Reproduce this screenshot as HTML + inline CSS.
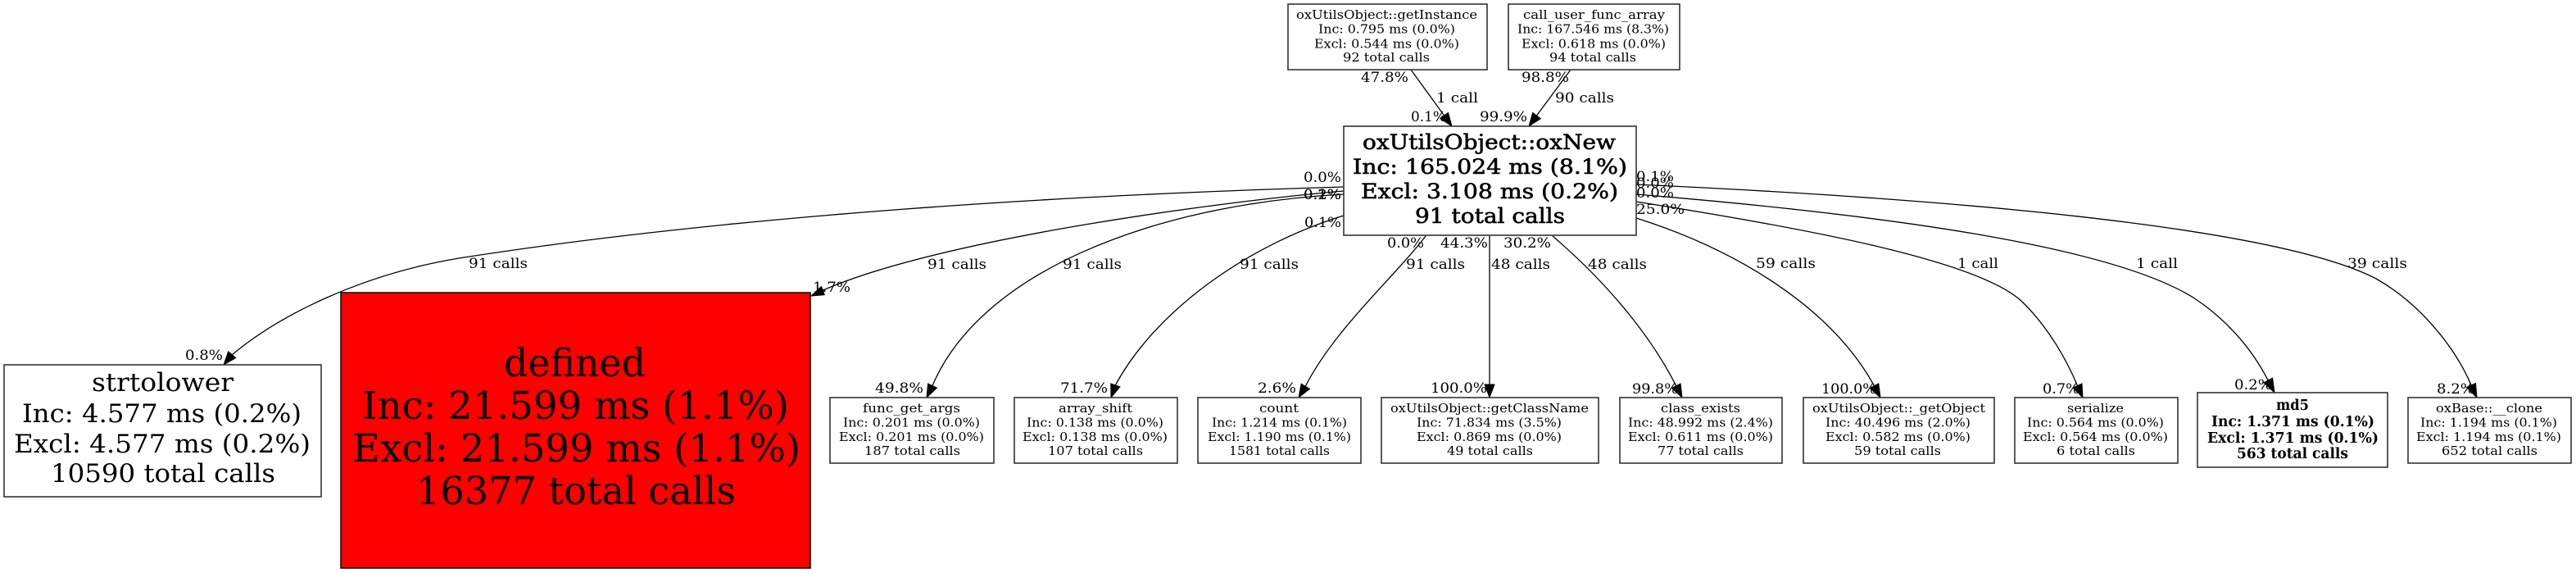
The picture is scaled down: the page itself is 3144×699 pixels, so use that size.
<!DOCTYPE html>
<html>
<head>
<meta charset="utf-8">
<style>
  html, body { margin: 0; padding: 0; background: #ffffff; }
  body { width: 3144px; height: 699px; overflow: hidden; }
  svg { display: block; }
  text { font-family: "DejaVu Serif", "Liberation Serif", serif; fill: #000; }
  .n { font-size: 15px; }
  .e { font-size: 17px; }
  .b { font-weight: bold; }
  .m { stroke: #000; stroke-width: 0.6; }
  rect.box { fill: #fff; stroke: #333; stroke-width: 1.6; }
  path.edge { fill: none; stroke: #000; stroke-width: 1.3; }
  polygon.ah { fill: #000; stroke: #000; stroke-width: 1; }
</style>
</head>
<body>
<svg width="3144" height="699" viewBox="0 0 3144 699" xmlns="http://www.w3.org/2000/svg">
<rect x="0" y="0" width="3144" height="699" fill="#fff"/>

<!-- ===== EDGES ===== -->
<path class="edge" d="M1722,85 L1762.6,141"/>
<polygon class="ah" points="1772,154 1757.7,144.5 1767.5,137.5"/>
<path class="edge" d="M1917,85 L1875.5,141"/>
<polygon class="ah" points="1866,154 1870.7,137.5 1880.3,144.7"/>

<path class="edge" d="M1640,228 C1300,238 900,262 560,315 C440,335 340,385 283,433"/>
<polygon class="ah" points="273,445 287.8,436.5 278.6,428.9"/>
<path class="edge" d="M1640,233 C1500,245 1150,290 1004.4,354.1"/>
<polygon class="ah" points="990,361 1002.6,349.4 1006.3,359.7"/>
<path class="edge" d="M1640,237 C1400,250 1195,335 1138,470.6"/>
<polygon class="ah" points="1131,485 1143.4,473.2 1132.6,468"/>
<path class="edge" d="M1640,263 C1520,300 1410,380 1361.3,469.9"/>
<polygon class="ah" points="1356,485 1367,471.9 1355.7,467.9"/>
<path class="edge" d="M1740,288 C1700,340 1630,400 1593.2,471.3"/>
<polygon class="ah" points="1585,485 1598.4,474.4 1588.1,468.2"/>
<path class="edge" d="M1818,288 L1818,469"/>
<polygon class="ah" points="1818,485 1824,469 1812,469"/>
<path class="edge" d="M1895,288 C1950,335 2010,400 2045.7,470.7"/>
<polygon class="ah" points="2053,485 2040.4,473.4 2051.1,468"/>
<path class="edge" d="M1997,266 C2120,305 2235,375 2287.5,470.7"/>
<polygon class="ah" points="2295,485 2282.2,473.5 2292.8,467.9"/>
<path class="edge" d="M1997,246 C2200,278 2420,318 2470,370 C2500,400 2522,438 2535.5,470.5"/>
<polygon class="ah" points="2542,485 2530,473 2541,468"/>
<path class="edge" d="M1997,237 C2300,262 2580,300 2680,365 C2720,392 2750,428 2768.5,464.8"/>
<polygon class="ah" points="2776,479 2763,466.8 2773.6,461.2"/>
<path class="edge" d="M1997,225 C2500,248 2800,288 2900,340 C2950,368 2995,420 3016.3,470.3"/>
<polygon class="ah" points="3023,485 3010.5,472.5 3021.5,467.5"/>

<!-- ===== NODES ===== -->
<rect class="box" x="1572" y="5" width="243" height="80"/>
<text class="n" x="1582" y="23" textLength="221" lengthAdjust="spacingAndGlyphs">oxUtilsObject::getInstance</text>
<text class="n" x="1609" y="40.7" textLength="167" lengthAdjust="spacingAndGlyphs">Inc: 0.795 ms (0.0%)</text>
<text class="n" x="1604" y="58.3" textLength="177" lengthAdjust="spacingAndGlyphs">Excl: 0.544 ms (0.0%)</text>
<text class="n" x="1639" y="75" textLength="106" lengthAdjust="spacingAndGlyphs">92 total calls</text>

<rect class="box" x="1841" y="5" width="209" height="80"/>
<text class="n" x="1859" y="23" textLength="173" lengthAdjust="spacingAndGlyphs">call_user_func_array</text>
<text class="n" x="1852" y="40.7" textLength="185" lengthAdjust="spacingAndGlyphs">Inc: 167.546 ms (8.3%)</text>
<text class="n" x="1857" y="58.3" textLength="176" lengthAdjust="spacingAndGlyphs">Excl: 0.618 ms (0.0%)</text>
<text class="n" x="1891" y="75" textLength="106" lengthAdjust="spacingAndGlyphs">94 total calls</text>

<rect class="box" x="1640" y="154" width="357" height="133"/>
<text class="m" font-size="25" x="1663" y="182" textLength="309" lengthAdjust="spacingAndGlyphs">oxUtilsObject::oxNew</text>
<text class="m" font-size="25" x="1651" y="212" textLength="335" lengthAdjust="spacingAndGlyphs">Inc: 165.024 ms (8.1%)</text>
<text class="m" font-size="25" x="1661" y="242" textLength="314" lengthAdjust="spacingAndGlyphs">Excl: 3.108 ms (0.2%)</text>
<text class="m" font-size="25" x="1727" y="272" textLength="183" lengthAdjust="spacingAndGlyphs">91 total calls</text>

<rect class="box" x="5" y="445" width="387" height="161"/>
<text font-size="31" x="112" y="477" textLength="173" lengthAdjust="spacingAndGlyphs">strtolower</text>
<text font-size="31" x="27" y="515" textLength="341" lengthAdjust="spacingAndGlyphs">Inc: 4.577 ms (0.2%)</text>
<text font-size="31" x="17" y="552" textLength="362" lengthAdjust="spacingAndGlyphs">Excl: 4.577 ms (0.2%)</text>
<text font-size="31" x="62" y="588" textLength="274" lengthAdjust="spacingAndGlyphs">10590 total calls</text>

<rect x="416" y="357" width="573" height="336" fill="#ff0000" stroke="#111" stroke-width="1.6"/>
<text font-size="47" x="615" y="459" textLength="173" lengthAdjust="spacingAndGlyphs">defined</text>
<text font-size="47" x="442" y="511" textLength="521" lengthAdjust="spacingAndGlyphs">Inc: 21.599 ms (1.1%)</text>
<text font-size="47" x="430" y="563" textLength="547" lengthAdjust="spacingAndGlyphs">Excl: 21.599 ms (1.1%)</text>
<text font-size="47" x="508" y="615" textLength="390" lengthAdjust="spacingAndGlyphs">16377 total calls</text>

<rect class="box" x="1013" y="485" width="200" height="80"/>
<text class="n" x="1053" y="503" textLength="119" lengthAdjust="spacingAndGlyphs">func_get_args</text>
<text class="n" x="1029" y="520.5" textLength="167" lengthAdjust="spacingAndGlyphs">Inc: 0.201 ms (0.0%)</text>
<text class="n" x="1024" y="538" textLength="177" lengthAdjust="spacingAndGlyphs">Excl: 0.201 ms (0.0%)</text>
<text class="n" x="1055" y="555" textLength="117" lengthAdjust="spacingAndGlyphs">187 total calls</text>

<rect class="box" x="1238" y="485" width="199" height="80"/>
<text class="n" x="1292" y="503" textLength="90" lengthAdjust="spacingAndGlyphs">array_shift</text>
<text class="n" x="1253" y="520.5" textLength="167" lengthAdjust="spacingAndGlyphs">Inc: 0.138 ms (0.0%)</text>
<text class="n" x="1248" y="538" textLength="177" lengthAdjust="spacingAndGlyphs">Excl: 0.138 ms (0.0%)</text>
<text class="n" x="1279" y="555" textLength="116" lengthAdjust="spacingAndGlyphs">107 total calls</text>

<rect class="box" x="1462" y="485" width="199" height="80"/>
<text class="n" x="1537" y="503" textLength="48" lengthAdjust="spacingAndGlyphs">count</text>
<text class="n" x="1479" y="520.5" textLength="165" lengthAdjust="spacingAndGlyphs">Inc: 1.214 ms (0.1%)</text>
<text class="n" x="1474" y="538" textLength="175" lengthAdjust="spacingAndGlyphs">Excl: 1.190 ms (0.1%)</text>
<text class="n" x="1500" y="555" textLength="123" lengthAdjust="spacingAndGlyphs">1581 total calls</text>

<rect class="box" x="1686" y="485" width="265" height="80"/>
<text class="n" x="1697" y="503" textLength="242" lengthAdjust="spacingAndGlyphs">oxUtilsObject::getClassName</text>
<text class="n" x="1729" y="520.5" textLength="177" lengthAdjust="spacingAndGlyphs">Inc: 71.834 ms (3.5%)</text>
<text class="n" x="1729" y="538" textLength="177" lengthAdjust="spacingAndGlyphs">Excl: 0.869 ms (0.0%)</text>
<text class="n" x="1766" y="555" textLength="105" lengthAdjust="spacingAndGlyphs">49 total calls</text>

<rect class="box" x="1977" y="485" width="198" height="80"/>
<text class="n" x="2027" y="503" textLength="97" lengthAdjust="spacingAndGlyphs">class_exists</text>
<text class="n" x="1987" y="520.5" textLength="177" lengthAdjust="spacingAndGlyphs">Inc: 48.992 ms (2.4%)</text>
<text class="n" x="1987" y="538" textLength="177" lengthAdjust="spacingAndGlyphs">Excl: 0.611 ms (0.0%)</text>
<text class="n" x="2023" y="555" textLength="105" lengthAdjust="spacingAndGlyphs">77 total calls</text>

<rect class="box" x="2201" y="485" width="233" height="80"/>
<text class="n" x="2212" y="503" textLength="211" lengthAdjust="spacingAndGlyphs">oxUtilsObject::_getObject</text>
<text class="n" x="2228" y="520.5" textLength="177" lengthAdjust="spacingAndGlyphs">Inc: 40.496 ms (2.0%)</text>
<text class="n" x="2228" y="538" textLength="177" lengthAdjust="spacingAndGlyphs">Excl: 0.582 ms (0.0%)</text>
<text class="n" x="2263" y="555" textLength="106" lengthAdjust="spacingAndGlyphs">59 total calls</text>

<rect class="box" x="2459" y="485" width="199" height="80"/>
<text class="n" x="2523" y="503" textLength="69" lengthAdjust="spacingAndGlyphs">serialize</text>
<text class="n" x="2474" y="520.5" textLength="167" lengthAdjust="spacingAndGlyphs">Inc: 0.564 ms (0.0%)</text>
<text class="n" x="2469" y="538" textLength="177" lengthAdjust="spacingAndGlyphs">Excl: 0.564 ms (0.0%)</text>
<text class="n" x="2510" y="555" textLength="96" lengthAdjust="spacingAndGlyphs">6 total calls</text>

<rect class="box" x="2682" y="479" width="232" height="91"/>
<text class="b" font-size="17.5" x="2778" y="500" textLength="40" lengthAdjust="spacingAndGlyphs">md5</text>
<text class="b" font-size="17.5" x="2699" y="520" textLength="199" lengthAdjust="spacingAndGlyphs">Inc: 1.371 ms (0.1%)</text>
<text class="b" font-size="17.5" x="2694" y="540" textLength="209" lengthAdjust="spacingAndGlyphs">Excl: 1.371 ms (0.1%)</text>
<text class="b" font-size="17.5" x="2730" y="559" textLength="136" lengthAdjust="spacingAndGlyphs">563 total calls</text>

<rect class="box" x="2939" y="485" width="199" height="80"/>
<text class="n" x="2973" y="503" textLength="130" lengthAdjust="spacingAndGlyphs">oxBase::__clone</text>
<text class="n" x="2954" y="520.5" textLength="167" lengthAdjust="spacingAndGlyphs">Inc: 1.194 ms (0.1%)</text>
<text class="n" x="2949" y="538" textLength="177" lengthAdjust="spacingAndGlyphs">Excl: 1.194 ms (0.1%)</text>
<text class="n" x="2980" y="555" textLength="117" lengthAdjust="spacingAndGlyphs">652 total calls</text>

<!-- ===== EDGE LABELS ===== -->
<text class="e" x="1661" y="100" textLength="58" lengthAdjust="spacingAndGlyphs">47.8%</text>
<text class="e" x="1753" y="125" textLength="51" lengthAdjust="spacingAndGlyphs">1 call</text>
<text class="e" x="1722" y="148" textLength="43" lengthAdjust="spacingAndGlyphs">0.1%</text>
<text class="e" x="1806" y="148" textLength="58" lengthAdjust="spacingAndGlyphs">99.9%</text>
<text class="e" x="1857" y="100" textLength="58" lengthAdjust="spacingAndGlyphs">98.8%</text>
<text class="e" x="1898" y="125" textLength="72" lengthAdjust="spacingAndGlyphs">90 calls</text>

<text class="e" x="1591" y="222" textLength="46" lengthAdjust="spacingAndGlyphs">0.0%</text>
<text class="e" x="1591" y="243" textLength="46" lengthAdjust="spacingAndGlyphs">0.2%</text>
<text class="e" x="1591" y="243" textLength="46" lengthAdjust="spacingAndGlyphs">0.1%</text>
<text class="e" x="1592" y="277" textLength="45" lengthAdjust="spacingAndGlyphs">0.1%</text>

<text class="e" x="1997" y="221" textLength="46" lengthAdjust="spacingAndGlyphs">0.1%</text>
<text class="e" x="1997" y="229" textLength="46" lengthAdjust="spacingAndGlyphs">0.0%</text>
<text class="e" x="1997" y="241" textLength="46" lengthAdjust="spacingAndGlyphs">0.0%</text>
<text class="e" x="1997" y="261" textLength="59" lengthAdjust="spacingAndGlyphs">25.0%</text>

<text class="e" x="1693" y="302" textLength="45" lengthAdjust="spacingAndGlyphs">0.0%</text>
<text class="e" x="1758" y="302" textLength="58" lengthAdjust="spacingAndGlyphs">44.3%</text>
<text class="e" x="1835" y="302" textLength="58" lengthAdjust="spacingAndGlyphs">30.2%</text>

<text class="e" x="572" y="327" textLength="72" lengthAdjust="spacingAndGlyphs">91 calls</text>
<text class="e" x="226" y="439" textLength="46" lengthAdjust="spacingAndGlyphs">0.8%</text>
<text class="e" x="992" y="356" textLength="46" lengthAdjust="spacingAndGlyphs">1.7%</text>
<text class="e" x="1132" y="328" textLength="72" lengthAdjust="spacingAndGlyphs">91 calls</text>
<text class="e" x="1297" y="328" textLength="72" lengthAdjust="spacingAndGlyphs">91 calls</text>
<text class="e" x="1513" y="328" textLength="72" lengthAdjust="spacingAndGlyphs">91 calls</text>
<text class="e" x="1716" y="328" textLength="72" lengthAdjust="spacingAndGlyphs">91 calls</text>
<text class="e" x="1820" y="328" textLength="72" lengthAdjust="spacingAndGlyphs">48 calls</text>
<text class="e" x="1938" y="328" textLength="72" lengthAdjust="spacingAndGlyphs">48 calls</text>
<text class="e" x="2143" y="327" textLength="73" lengthAdjust="spacingAndGlyphs">59 calls</text>
<text class="e" x="2389" y="327" textLength="50" lengthAdjust="spacingAndGlyphs">1 call</text>
<text class="e" x="2607" y="327" textLength="51" lengthAdjust="spacingAndGlyphs">1 call</text>
<text class="e" x="2865" y="327" textLength="73" lengthAdjust="spacingAndGlyphs">39 calls</text>

<text class="e" x="1068" y="479" textLength="59" lengthAdjust="spacingAndGlyphs">49.8%</text>
<text class="e" x="1294" y="479" textLength="58" lengthAdjust="spacingAndGlyphs">71.7%</text>
<text class="e" x="1535" y="479" textLength="47" lengthAdjust="spacingAndGlyphs">2.6%</text>
<text class="e" x="1746" y="479" textLength="69" lengthAdjust="spacingAndGlyphs">100.0%</text>
<text class="e" x="1992" y="480" textLength="56" lengthAdjust="spacingAndGlyphs">99.8%</text>
<text class="e" x="2223" y="480" textLength="67" lengthAdjust="spacingAndGlyphs">100.0%</text>
<text class="e" x="2493" y="480" textLength="45" lengthAdjust="spacingAndGlyphs">0.7%</text>
<text class="e" x="2727" y="475" textLength="46" lengthAdjust="spacingAndGlyphs">0.2%</text>
<text class="e" x="2974" y="480" textLength="46" lengthAdjust="spacingAndGlyphs">8.2%</text>
</svg>
</body>
</html>
